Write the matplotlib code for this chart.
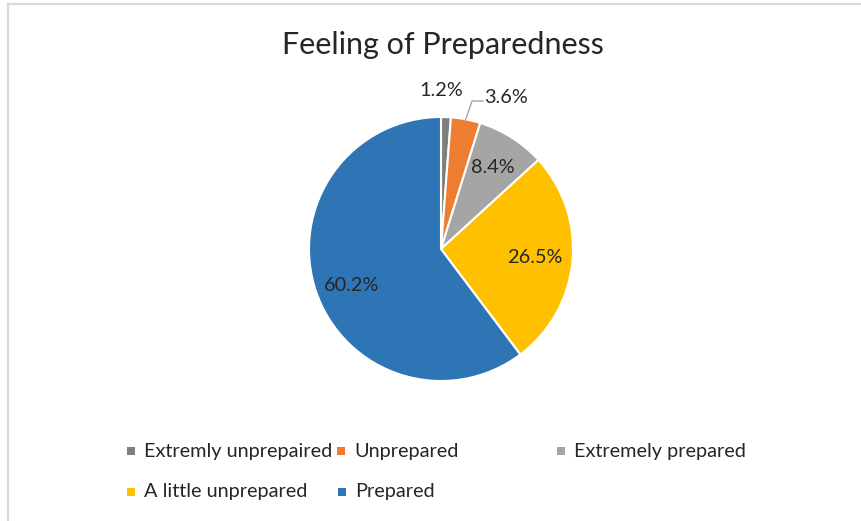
import numpy as np
import matplotlib
matplotlib.use("Agg")
import matplotlib.pyplot as plt
from matplotlib.lines import Line2D
from matplotlib.patches import Rectangle

plt.rcParams['font.family'] = ['Lato', 'DejaVu Sans']

categories = ["Extremly unprepaired", "Unprepared", "Extremely prepared",
              "A little unprepared", "Prepared"]
values = [1.2, 3.6, 8.4, 26.5, 60.2]
colors = ["#7F7F7F", "#ED7D31", "#A5A5A5", "#FFC000", "#2E75B6"]
title = "Feeling of Preparedness"

W, H = 862, 521
fig = plt.figure(figsize=(W / 100, H / 100), dpi=100)

def px(x, y):
    return x / W, 1 - y / H

# chart border (top and left visible)
fig.add_artist(Line2D([8 / W, 8 / W], [0, 1 - 4 / H], color="#D9D9D9", lw=1.6,
                      transform=fig.transFigure))
fig.add_artist(Line2D([8 / W, 1], [1 - 4 / H, 1 - 4 / H], color="#D9D9D9", lw=1.6,
                      transform=fig.transFigure))

cx, cy, r = 441, 249, 132
ax = fig.add_axes([(cx - r) / W, 1 - (cy + r) / H, 2 * r / W, 2 * r / H])
wedges, _ = ax.pie(values, colors=colors, startangle=90, counterclock=False,
                   wedgeprops=dict(edgecolor="white", linewidth=1.5))
ax.set_xlim(-1, 1)
ax.set_ylim(-1, 1)
ax.set_aspect("equal")
ax.axis("off")

FS = 14.3
# data labels
total = sum(values)
dists = [1.2, None, 0.735, 0.71, 0.73]
ang_adj = [0, 0, 0, 0, 3.5]
cum = 0
for v, d, adj in zip(values, dists, ang_adj):
    mid = 90 - (cum + v / 2) / total * 360
    cum += v
    a = np.deg2rad(mid + adj)
    lab = f"{v:.1f}%"
    if d is None:
        x0, y0 = np.cos(a), np.sin(a)
        ax.plot([x0, 0.235, 0.318], [y0, 1.121, 1.121], color="#A6A6A6", lw=1,
                clip_on=False)
        ax.text(0.326, 1.145, lab, ha="left", va="center", fontsize=FS,
                color="#262626", clip_on=False)
    else:
        x, y = d * np.cos(a), d * np.sin(a)
        if d > 1:
            x = 0.0
        ax.text(x, y, lab, ha="center", va="center", fontsize=FS,
                color="#262626", clip_on=False)

fig.text(*px(443, 45), title, ha="center", va="center", fontsize=22,
         color="#262626")

# legend (manual layout)
leg_pos = [(131, 451), (341, 451), (561, 451), (131, 492), (342, 492)]
for (lx, ly), name, c in zip(leg_pos, categories, colors):
    s = 8
    fig.add_artist(Rectangle(px(lx - s / 2, ly + s / 2), s / W, s / H,
                             facecolor=c, edgecolor="none",
                             transform=fig.transFigure))
    fig.text(*px(lx + 13, ly), name, ha="left", va="center", fontsize=FS,
             color="#262626")

fig.savefig("out.png", dpi=100, facecolor="white")
